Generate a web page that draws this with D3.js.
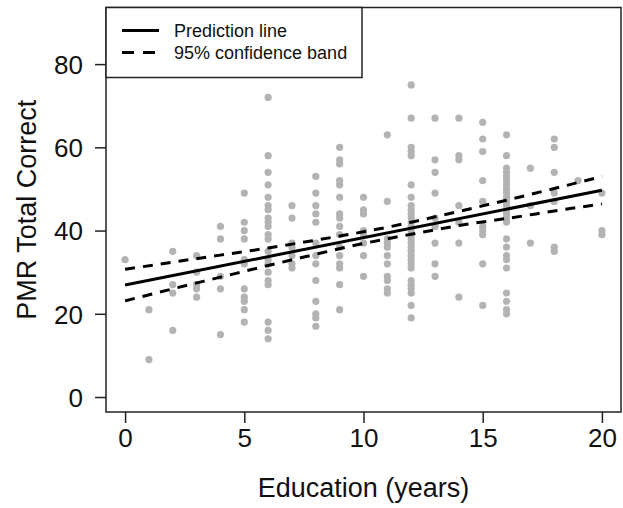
<!DOCTYPE html>
<html>
<head>
<meta charset="utf-8">
<script src="https://cdn.jsdelivr.net/npm/d3@7"></script>
<style>
  body { margin: 0; background: #fff; }
  svg { display: block; font-family: "Liberation Sans", Arial, Helvetica, sans-serif; }
</style>
</head>
<body>
<svg id="chart" width="623" height="508"></svg>
<script>
// points, one column per year of education
const eduYears = [0, 1, 2, 3, 4, 5, 6, 7, 8, 9, 10, 11, 12, 13, 14, 15, 16, 17, 18, 19, 20];
const pmrScores = [
  [33],
  [21, 9],
  [35, 27, 25, 16],
  [34, 30, 27, 26, 24],
  [41, 38, 29, 26, 15],
  [49, 42, 40, 38, 33, 32, 26, 24, 23, 21, 18],
  [72, 58, 54, 51, 48, 46, 45, 43, 42, 41, 39, 38, 35, 33, 32, 30, 28, 27, 18, 16, 14],
  [46, 43, 37, 36, 34, 32, 31],
  [53, 49, 46, 44, 42, 37, 34, 32, 28, 23, 20, 19, 17],
  [60, 57, 56, 52, 51, 48, 44, 43, 41, 39, 36, 34, 32, 31, 27, 21],
  [48, 45, 44, 40, 39, 37, 34, 29],
  [63, 47, 38, 37, 36, 34, 32, 29, 28, 26, 25],
  [75, 67, 60, 59, 58, 51, 48, 46, 45, 44, 43, 42, 41, 40, 39, 38, 37, 36, 35, 34, 33, 32, 31, 28, 27, 26, 25, 22, 19],
  [67, 57, 54, 49, 43, 41, 37, 32, 29],
  [67, 58, 57, 46, 42, 37, 24],
  [66, 62, 59, 52, 47, 41, 40, 39, 32, 22],
  [63, 58, 55, 54, 53, 52, 51, 50, 49, 48, 47, 46, 45, 44, 43, 42, 38, 36, 34, 33, 31, 25, 23, 21, 20],
  [55, 46, 37],
  [62, 60, 54, 49, 47, 36, 35],
  [52],
  [49, 40, 39]
];

// prediction line and 95% band
const predX = [0, 20];
const predY = [26.9, 49.7];
const bandX = [0, 2, 4, 6, 8, 10, 12, 14, 16, 18, 20];
const bandUpper = [30.7, 32.4, 34.1, 35.8, 37.7, 39.7, 42.0, 44.6, 47.3, 50.1, 53.0];
const bandLower = [23.1, 26.0, 28.8, 31.6, 34.3, 36.9, 39.1, 41.2, 42.9, 44.7, 46.4];

const xTicks = [0, 5, 10, 15, 20];
const yTicks = [0, 20, 40, 60, 80];

const svg = d3.select("#chart");
const box = { left: 106, right: 621, top: 7.5, bottom: 412 };

const x = d3.scaleLinear().domain([-0.8, 20.8]).range([box.left, box.right]);
const y = d3.scaleLinear().domain([-3.6, 93.6]).range([box.bottom, box.top]);

const points = eduYears.flatMap((e, i) => pmrScores[i].map(v => ({ edu: e, pmr: v })));

svg.append("g")
  .selectAll("circle")
  .data(points)
  .join("circle")
  .attr("cx", d => x(d.edu))
  .attr("cy", d => y(d.pmr))
  .attr("r", 3.6)
  .attr("fill", "#b3b3b3");

// lines
const line = d3.line().x(d => x(d[0])).y(d => y(d[1]));
const bandLine = d3.line().x(d => x(d[0])).y(d => y(d[1])).curve(d3.curveNatural);

svg.append("path")
  .attr("d", line(predX.map((v, i) => [v, predY[i]])))
  .attr("fill", "none").attr("stroke", "#000").attr("stroke-width", 3);

[bandUpper, bandLower].forEach(arr => {
  svg.append("path")
    .attr("d", bandLine(bandX.map((v, i) => [v, arr[i]])))
    .attr("fill", "none").attr("stroke", "#000").attr("stroke-width", 3)
    .attr("stroke-dasharray", "10,8");
});

// axes
const gX = svg.append("g").attr("transform", `translate(0,${box.bottom})`)
  .call(d3.axisBottom(x).tickValues(xTicks).tickSize(11).tickPadding(6).tickSizeOuter(0));
const gY = svg.append("g").attr("transform", `translate(${box.left},0)`)
  .call(d3.axisLeft(y).tickValues(yTicks).tickSize(11).tickPadding(12).tickSizeOuter(0));

[gX, gY].forEach(g => {
  g.select(".domain").remove();
  g.selectAll(".tick line").attr("stroke", "#222").attr("stroke-width", 1.5);
  g.selectAll(".tick text").attr("fill", "#111").style("font-size", "26px");
});
gY.selectAll(".tick text").attr("dy", "0.36em");

// plot frame
svg.append("rect")
  .attr("x", box.left).attr("y", box.top)
  .attr("width", box.right - box.left).attr("height", box.bottom - box.top)
  .attr("fill", "none").attr("stroke", "#222").attr("stroke-width", 1.5);

// axis titles
svg.append("text")
  .attr("x", (box.left + box.right) / 2).attr("y", 497)
  .attr("text-anchor", "middle").style("font-size", "27px").attr("fill", "#111")
  .text("Education (years)");
svg.append("text")
  .attr("transform", `translate(36,${(box.top + box.bottom) / 2}) rotate(-90)`)
  .attr("text-anchor", "middle").style("font-size", "27px").attr("fill", "#111")
  .text("PMR Total Correct");

// legend
const legend = svg.append("g").attr("transform", `translate(${box.left},${box.top})`);
legend.append("rect").attr("width", 256).attr("height", 70)
  .attr("fill", "#fff").attr("stroke", "#222").attr("stroke-width", 1.5);
const legendItems = [
  { label: "Prediction line", dash: null, y: 23 },
  { label: "95% confidence band", dash: "12,9", y: 45 }
];
legendItems.forEach(it => {
  legend.append("line").attr("x1", 16).attr("x2", 53).attr("y1", it.y).attr("y2", it.y)
    .attr("stroke", "#000").attr("stroke-width", 3).attr("stroke-dasharray", it.dash);
  legend.append("text").attr("x", 68).attr("y", it.y + 6.5)
    .style("font-size", "18px").attr("fill", "#111").text(it.label);
});
</script>
</body>
</html>
